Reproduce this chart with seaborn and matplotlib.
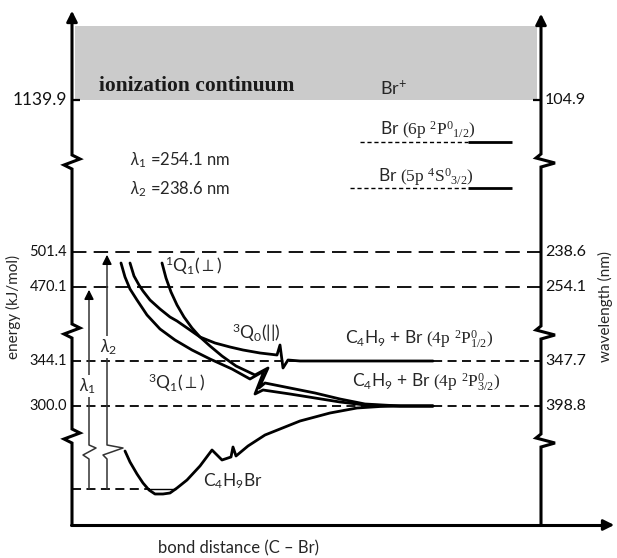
import numpy as np
import matplotlib
matplotlib.use("Agg")
import matplotlib.pyplot as plt
import seaborn as sns
import pandas as pd

# ---------------- data (schematic units) ----------------
energy_labels = ["300.0", "344.1", "470.1", "501.4", "1139.9"]      # kJ/mol
wavelength_labels = ["398.8", "347.7", "254.1", "238.6", "104.9"]   # nm
level_pos = [406, 361, 287, 252, 100]                               # vertical placement

# potential energy curves (bond distance, schematic energy)
q1_perp3_x = [121, 125, 130, 137, 147, 160, 175, 192, 210, 232, 250, 264, 255, 263, 290, 315, 340, 365, 400, 433]
q1_perp3_y = [263, 277, 289, 300, 315, 329, 340, 350, 359, 369, 379, 371, 394, 390, 394, 398, 402, 405, 406, 406]

q1_perp1_x = [162, 166, 171, 177, 184, 192, 200, 210, 222, 236, 255, 268, 259, 265, 290, 315, 340, 365, 400, 433]
q1_perp1_y = [263, 278, 292, 305, 317, 328, 337, 346, 356, 366, 375, 368, 388, 383, 388, 393, 399, 404, 406, 406]

q0_par3_x = [130, 134, 139, 143, 150, 160, 170, 177, 190, 200, 215, 230, 243, 260, 277, 280, 283, 288, 300, 433]
q0_par3_y = [263, 276, 285, 291, 300, 309, 317, 321, 330, 337, 343, 347, 350, 353, 355, 345, 368, 360, 361, 361]

ground_x = [125, 130, 137, 143, 149, 155, 163, 170, 177, 187, 200, 212, 222, 231, 233, 236, 248, 265, 300, 330, 357, 380, 400, 433]
ground_y = [451, 462, 474, 483, 490, 494, 494, 493, 488, 480, 466, 450, 460, 457, 447, 456, 446, 435, 421, 413, 408, 406.5, 406, 406]

# ---------------- style ----------------
sns.set_theme(style="white")
plt.rcParams["font.family"] = ["Lato", "DejaVu Sans"]
plt.rcParams["mathtext.fontset"] = "custom"
plt.rcParams["mathtext.rm"] = "Lato"
plt.rcParams["mathtext.it"] = "Lato:italic"
plt.rcParams["mathtext.bf"] = "Lato:bold"
plt.rcParams["mathtext.tt"] = "Liberation Serif"
plt.rcParams["mathtext.fallback"] = "cm"

fig = plt.figure(figsize=(6.17, 5.58), dpi=100)
ax = fig.add_axes([0, 0, 1, 1])

K = "black"
XL, XR, YB = 72, 541, 525

# grey ionization band
ax.fill_between([75, 537], [26, 26], [100, 100], color="#cbcbcb", lw=0, zorder=0)

# dashed energy levels
long_dash = (0, (8, 4))
short_dash = (0, (5, 3))
for lab, y in zip(energy_labels, level_pos):
    if lab == "1139.9":
        continue
    ls = long_dash if float(lab) > 400 else short_dash
    ax.hlines(y, XL, XR, colors=K, lw=1.3, linestyles=ls, zorder=1)
# ground vibrational level
ax.hlines(489, XL, 150, colors=K, lw=1.3, linestyles=short_dash, zorder=1)
ax.hlines(489, 148, 176, colors=K, lw=1.0, zorder=2)

# Br atomic levels
ax.hlines(142, 360, 468, colors=K, lw=1.0, linestyles=(0, (3, 2)), zorder=1)
ax.hlines(142, 468, 512, colors=K, lw=2.0, zorder=2)
ax.hlines(188, 350, 468, colors=K, lw=1.0, linestyles=(0, (3, 2)), zorder=1)
ax.hlines(188, 468, 512, colors=K, lw=2.0, zorder=2)

# potential curves through seaborn
curves = [(q1_perp3_x, q1_perp3_y), (q1_perp1_x, q1_perp1_y),
          (q0_par3_x, q0_par3_y), (ground_x, ground_y)]
for cx, cy in curves:
    df = pd.DataFrame({"r": cx, "E": cy})
    sns.lineplot(data=df, x="r", y="E", sort=False, estimator=None, color=K,
                 lw=2.0, ax=ax, zorder=3)
    ax.lines[-1].set_solid_joinstyle("round")

# axes with breaks
def vline_with_breaks(x, ytop, ybot, breaks, offs):
    xs, ys = [x], [ytop]
    for b in breaks:
        for dx, dy in offs:
            xs.append(x + dx)
            ys.append(b + dy)
    xs.append(x)
    ys.append(ybot)
    return xs, ys

lx, ly = vline_with_breaks(XL, 18, YB, [162, 331, 436],
                           [(0, -7), (8, -3), (-8, 3), (0, 7)])
ax.plot(lx, ly, color=K, lw=2.2, solid_joinstyle="miter", zorder=4)
rx, ry = vline_with_breaks(XR, 20, YB, [161, 333, 441],
                           [(0, -7), (-5, -3), (14, 2), (0, 6)])
ax.plot(rx, ry, color=K, lw=2.2, solid_joinstyle="miter", zorder=4)
ax.plot([XL - 1, 606], [YB, YB], color=K, lw=2.2, zorder=4)

arrow_kw = dict(arrowstyle="-|>", color=K, lw=2.0, mutation_scale=16)
ax.annotate("", xy=(XL, 8), xytext=(XL, 24), arrowprops=arrow_kw, zorder=5)
ax.annotate("", xy=(XR, 11), xytext=(XR, 27), arrowprops=arrow_kw, zorder=5)
ax.annotate("", xy=(617, YB), xytext=(600, YB), arrowprops=arrow_kw, zorder=5)

# ticks at 1139.9 / 104.9
ax.hlines(100, XL, XL + 8, colors=K, lw=1.6)
ax.hlines(100, XR - 8, XR, colors=K, lw=1.6)

# tick labels
for lab, y in zip(energy_labels, level_pos):
    fs = 12.5 if lab == "1139.9" else 10.5
    ax.text(67, y, lab, ha="right", va="center", fontsize=fs, color="#111111")
for lab, y in zip(wavelength_labels, level_pos):
    ax.text(545, y, lab, ha="left", va="center", fontsize=11.5, color="#111111")

# excitation arrows
for x, ytop, zz in [(89, 287, [(0, -7), (7, -4), (-6, 3), (0, 7)]),
                    (107, 252, [(0, -7), (16, -4), (-4, 3), (0, 7)])]:
    px = [x] + [x + dx for dx, dy in zz] + [x]
    py = [ytop + 10] + [452 + dy for dx, dy in zz] + [489]
    ax.plot(px, py, color="#333333", lw=1.1, zorder=2)
    ax.annotate("", xy=(x, ytop), xytext=(x, ytop + 14),
                arrowprops=dict(arrowstyle="-|>", color=K, lw=1.1, mutation_scale=14))

bg = dict(facecolor="white", edgecolor="none", pad=0.5)
ax.text(88, 386, r"$\lambda_1$", ha="center", va="center", fontsize=12.5, bbox=bg, zorder=3)
ax.text(109, 347, r"$\lambda_2$", ha="center", va="center", fontsize=12.5, bbox=bg, zorder=3)

# texts
ax.text(99, 86, "ionization continuum", ha="left", va="center", fontsize=15.5,
        family=["Liberation Serif"], weight="bold", color="#1a1a1a")
ax.text(380, 88, r"Br$^{+}$", ha="left", va="center", fontsize=13)
ax.text(380, 130, r"Br $\mathtt{(6p\ ^{2}P^{0}{}_{1/2})}$", ha="left", va="center", fontsize=12.5)
ax.text(378, 177, r"Br $\mathtt{(5p\ ^{4}S^{0}{}_{3/2})}$", ha="left", va="center", fontsize=12.5)
ax.text(130, 160, r"$\lambda_1$ =254.1 nm", ha="left", va="center", fontsize=12)
ax.text(130, 189, r"$\lambda_2$ =238.6 nm", ha="left", va="center", fontsize=12)

ax.text(165, 266, r"$^{1}$Q$_{1}$($\perp$)", ha="left", va="center", fontsize=12.5)
ax.text(232, 333, r"$^{3}$Q$_{0}$(||)", ha="left", va="center", fontsize=12.5)
ax.text(148, 383, r"$^{3}$Q$_{1}$($\perp$)", ha="left", va="center", fontsize=12.5)
ax.text(203, 481, r"C$_4$H$_9$Br", ha="left", va="center", fontsize=12.5)
ax.text(345, 340, r"C$_4$H$_9$ + Br $\mathtt{(4p\ ^{2}P^{0}_{1/2})}$", ha="left", va="center", fontsize=12.5)
ax.text(352, 383, r"C$_4$H$_9$ + Br $\mathtt{(4p\ ^{2}P^{0}_{3/2})}$", ha="left", va="center", fontsize=12.5)

ax.text(13, 307, "energy (kJ/mol)", rotation=90, ha="center", va="center", fontsize=11)
ax.text(605, 307, "wavelength (nm)", rotation=90, ha="center", va="center", fontsize=11)
ax.text(238, 548, "bond distance (C – Br)", ha="center", va="center", fontsize=12)

ax.set_xlim(0, 617)
ax.set_ylim(558, 0)
ax.axis("off")
fig.savefig("out.png", dpi=100)
